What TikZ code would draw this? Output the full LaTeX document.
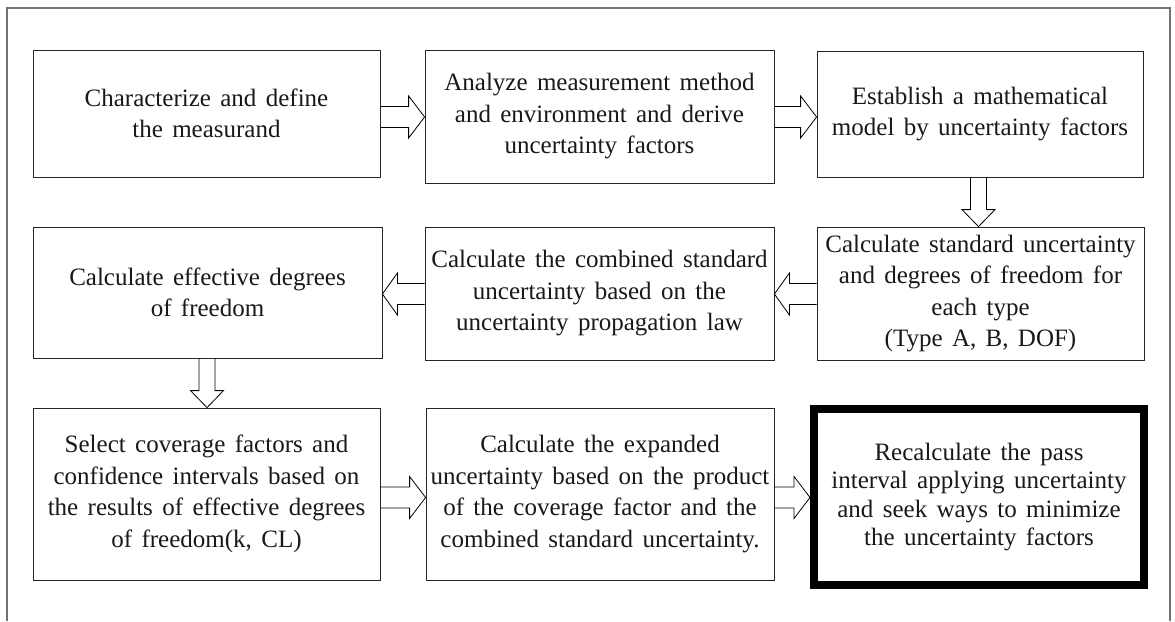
\documentclass[tikz,border=0pt]{standalone}
\usepackage{fontspec}
\setmainfont{Liberation Serif}[WordSpace=1.5]
\usetikzlibrary{calc}
\tikzset{
  box/.style={draw=black!85, line width=0.8pt, fill=white, align=center, inner sep=2pt,
    font=\fontsize{25}{31.5}\selectfont, text=black!90},
  thickbox/.style={box, line width=8pt, draw=black},
  barrow/.style={draw=black, line width=0.8pt, line join=miter},
}
% right-pointing block arrow: from node #1 (east) to node #2 (west) at y=#3
\newcommand\rarrow[3]{%
  \draw[barrow] let \p1=(#1.east), \p2=(#2.west), \p3=(0,#3) in
    (\x1,\y3+10.5pt) -- (\x2-16pt,\y3+10.5pt) -- (\x2-16pt,\y3+21pt) -- (\x2,\y3)
    -- (\x2-16pt,\y3-21pt) -- (\x2-16pt,\y3-10.5pt) -- (\x1,\y3-10.5pt);}
% left-pointing block arrow: from node #1 (west) to node #2 (east) at y=#3
\newcommand\larrow[3]{%
  \draw[barrow] let \p1=(#1.west), \p2=(#2.east), \p3=(0,#3) in
    (\x1,\y3+10.5pt) -- (\x2+15pt,\y3+10.5pt) -- (\x2+15pt,\y3+21pt) -- (\x2,\y3)
    -- (\x2+15pt,\y3-21pt) -- (\x2+15pt,\y3-10.5pt) -- (\x1,\y3-10.5pt);}
% down-pointing block arrow: from node #1 (south) to node #2 (north) at x=#3
\newcommand\darrow[3]{%
  \draw[barrow] let \p1=(#1.south), \p2=(#2.north), \p3=(#3,0) in
    (\x3-8pt,\y1) -- (\x3-8pt,\y2+17pt) -- (\x3-16.5pt,\y2+17pt) -- (\x3,\y2)
    -- (\x3+16.5pt,\y2+17pt) -- (\x3+8pt,\y2+17pt) -- (\x3+8pt,\y1);}
\begin{document}
\begin{tikzpicture}[x=1pt,y=-1pt]
\useasboundingbox (0,0) rectangle (1175,621);
\draw[black!55, line width=1.3pt] (7,621) -- (7,8) -- (1170,8) -- (1170,621);

\node[box, minimum width=347pt, minimum height=127pt] (b1) at (206.5,113.5)
  {Characterize and define\\the measurand};
\node[box, minimum width=349pt, minimum height=133pt] (b2) at (599.5,116.5)
  {Analyze measurement method\\and environment and derive\\uncertainty factors};
\node[box, minimum width=326pt, minimum height=126pt] (b3) at (980,114)
  {Establish a mathematical\\model by uncertainty factors};
\node[box, minimum width=327pt, minimum height=133pt] (b4) at (980.5,293.5)
  {Calculate standard uncertainty\\and degrees of freedom for\\each type\\(Type A, B, DOF)};
\node[box, minimum width=349pt, minimum height=133pt] (b5) at (599.5,293.5)
  {Calculate the combined standard\\uncertainty based on the\\uncertainty propagation law};
\node[box, minimum width=349pt, minimum height=131pt] (b6) at (207.5,292.5)
  {Calculate effective degrees\\of freedom};
\node[box, minimum width=347pt, minimum height=172pt] (b7) at (206.5,494)
  {Select coverage factors and\\confidence intervals based on\\the results of effective degrees\\of freedom(k, CL)};
\node[box, minimum width=348pt, minimum height=172pt] (b8) at (600,494)
  {Calculate the expanded\\uncertainty based on the product\\of the coverage factor and the\\combined standard uncertainty.};
\node[thickbox, minimum width=330pt, minimum height=176pt, font=\fontsize{25}{28.5}\selectfont] (b9) at (979,497)
  {Recalculate the pass\\interval applying uncertainty\\and seek ways to minimize\\the uncertainty factors};

\rarrow{b1}{b2}{117}
\rarrow{b2}{b3}{117}
\darrow{b3}{b4}{978.5}
\larrow{b4}{b5}{294}
\larrow{b5}{b6}{294}
\darrow{b6}{b7}{207}
\rarrow{b7}{b8}{497.5}
\rarrow{b8}{b9}{497.5}
\end{tikzpicture}
\end{document}
